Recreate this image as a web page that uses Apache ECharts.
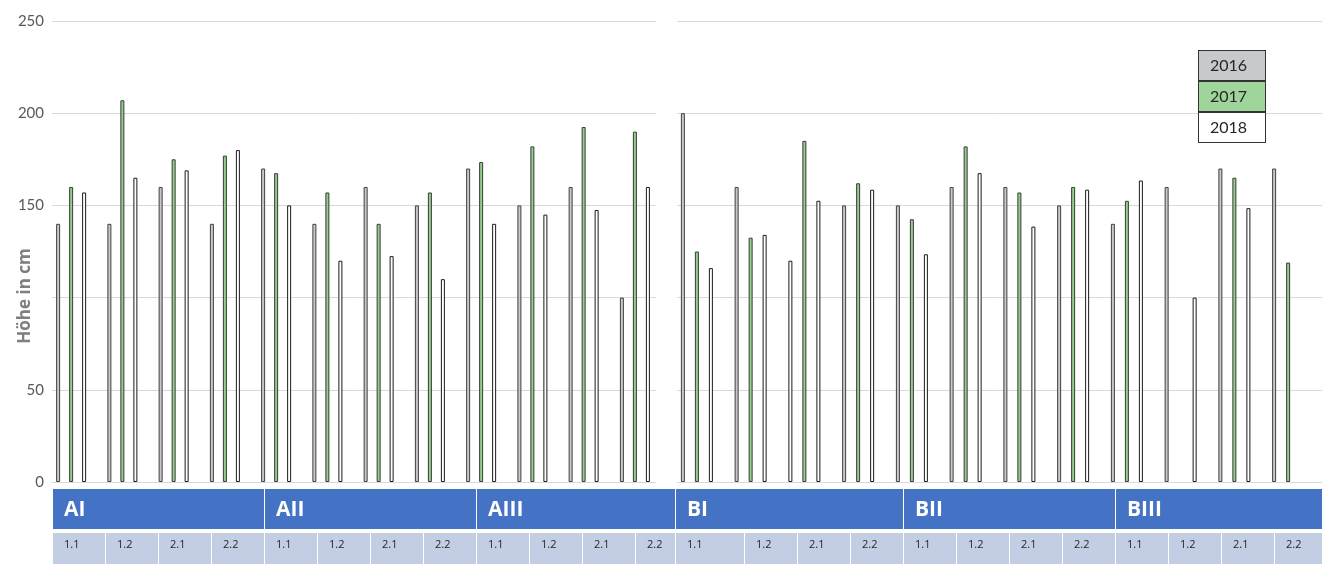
<!DOCTYPE html>
<html>
<head>
<meta charset="utf-8">
<script src="https://cdn.jsdelivr.net/npm/echarts@6/dist/echarts.min.js"></script>
<style>
  html, body { margin: 0; padding: 0; background: #fff; }
  #chart { width: 1322px; height: 564px; }
</style>
</head>
<body>
<div id="chart"></div>
<script>
// Daten
var subPlots = ['1.1', '1.2', '2.1', '2.2'];
var groupsA = ['AI', 'AII', 'AIII'];
var groupsB = ['BI', 'BII', 'BIII'];
var years = ['2016', '2017', '2018'];
var yTicks = [0, 50, 100, 150, 200, 250];
var hiddenTick = 100; // vom Achsentitel verdeckt

var a2016 = [140, 140, 160, 140, 170, 140, 160, 150, 170, 150, 160, 100];
var a2017 = [160, 207, 175, 177, 167.5, 157, 140, 157, 173.5, 182, 192.5, 190];
var a2018 = [157, 165, 169, 180, 150, 120, 122.5, 110, 140, 145, 147.5, 160];

var b2016 = [200, 160, 120, 150, 150, 160, 160, 150, 140, 160, 170, 170];
var b2017 = [125, 132.5, 185, 162, 142.5, 182, 157, 160, 152.5, null, 165, 119];
var b2018 = [116, 134, 152.5, 158.5, 123.5, 167.5, 138.5, 158.5, 163.5, 100, 148.5, null];

// Balken 2016 die weiß gefüllt sind (BI 2.1)
var whiteB2016 = [2];

var yearStyle = [
  { color: '#c8c8c8', borderColor: '#404040', borderWidth: 1 },
  { color: '#92d08a', borderColor: '#3b3b3b', borderWidth: 1 },
  { color: '#ffffff', borderColor: '#1a1a1a', borderWidth: 1 }
];
var legendFill = ['#c8c9cb', '#9fd49a', '#ffffff'];

function cats(groups) {
  var out = [];
  groups.forEach(function (g) {
    subPlots.forEach(function (s) { out.push(g + ' ' + s); });
  });
  return out;
}

var chart = echarts.init(document.getElementById('chart'));

var grids = [
  { left: 52, top: 21, width: 615, height: 461 },
  { left: 677, top: 21, width: 672, height: 461 }
];
var gapPct = ['225%', '250%'];

var xAxes = [], yAxes = [], series = [];
[[groupsA, [a2016, a2017, a2018]], [groupsB, [b2016, b2017, b2018]]].forEach(function (p, k) {
  xAxes.push({
    type: 'category', gridIndex: k, data: cats(p[0]),
    axisLine: { show: true, lineStyle: { color: '#d9d9d9', width: 1 } },
    axisTick: { show: false }, axisLabel: { show: false }
  });
  yAxes.push({
    type: 'value', gridIndex: k, min: yTicks[0], max: yTicks[yTicks.length - 1], interval: 50,
    axisLine: { show: false }, axisTick: { show: false },
    axisLabel: {
      show: k === 0, fontFamily: 'Lato', fontSize: 15, color: '#595959', margin: 8,
      formatter: function (v) { return v === hiddenTick ? '' : String(v); }
    },
    splitLine: { lineStyle: { color: '#d9d9d9', width: 1 } }
  });
  p[1].forEach(function (vals, j) {
    series.push({
      name: years[j], type: 'bar', xAxisIndex: k, yAxisIndex: k,
      barWidth: 4, barGap: gapPct[k], itemStyle: yearStyle[j],
      data: vals.map(function (v, i) {
        if (k === 1 && j === 0 && whiteB2016.indexOf(i) >= 0) {
          return { value: v, itemStyle: { color: '#ffffff', borderColor: '#1a1a1a' } };
        }
        return v;
      })
    });
  });
  // leere vierte Reihe (Platzhalter wie im Original)
  series.push({
    name: 'leer', type: 'bar', xAxisIndex: k, yAxisIndex: k,
    barWidth: 4, barGap: gapPct[k], data: p[1][0].map(function () { return null; })
  });
});

var graphics = [];

// weißer Streifen zwischen den beiden Diagrammteilen
graphics.push({
  type: 'rect', z: 100, silent: true,
  shape: { x: 656, y: 10, width: 20, height: 476 },
  style: { fill: '#ffffff' }
});

// Achsentitel
graphics.push({
  type: 'text', x: 25, y: 296, rotation: Math.PI / 2, silent: true,
  style: {
    text: 'Höhe in cm', fill: '#7f7f7f', font: 'bold 17px "Open Sans"',
    align: 'center', verticalAlign: 'middle'
  }
});

// Tabelle unter dem Diagramm
var tables = [
  { groups: groupsA, left: 53, extendFirst: 0, right: 675 },
  { groups: groupsB, left: 692, extendFirst: 16, right: 1322 }
];
var cellW = 53;
tables.forEach(function (t) {
  t.groups.forEach(function (g, gi) {
    var gx = t.left + gi * 4 * cellW - (gi === 0 ? t.extendFirst : 0);
    var gEnd = Math.min(t.left + (gi + 1) * 4 * cellW - 1, t.right);
    graphics.push({
      type: 'rect', shape: { x: gx, y: 489, width: gEnd - gx, height: 40 },
      style: { fill: '#4472c4' }, silent: true
    });
    graphics.push({
      type: 'text', x: gx + 11, y: 510,
      style: { text: g, fill: '#ffffff', font: 'bold 21px "Open Sans"', verticalAlign: 'middle' },
      silent: true
    });
    subPlots.forEach(function (s, si) {
      var cx = t.left + (gi * 4 + si) * cellW - (gi === 0 && si === 0 ? t.extendFirst : 0);
      var cEnd = Math.min(t.left + (gi * 4 + si + 1) * cellW - 1, t.right);
      if (cEnd <= cx) return;
      graphics.push({
        type: 'rect', shape: { x: cx, y: 533, width: cEnd - cx, height: 31 },
        style: { fill: '#c3cde4' }, silent: true
      });
      graphics.push({
        type: 'text', x: cx + 11, y: 545,
        style: { text: s, fill: '#262626', font: '11px "Open Sans"', verticalAlign: 'middle' },
        silent: true
      });
    });
  });
});

chart.setOption({
  animation: false,
  grid: grids,
  xAxis: xAxes,
  yAxis: yAxes,
  legend: {
    orient: 'vertical', left: 1193, top: 50, padding: 0, itemGap: 0,
    itemWidth: 0, itemHeight: 0, selectedMode: false,
    data: years.map(function (y, i) {
      return {
        name: y, icon: 'rect',
        textStyle: {
          fontFamily: 'Lato', fontSize: 16, color: '#262626', lineHeight: 18,
          width: 44, padding: [6, 11, 5, 11],
          backgroundColor: legendFill[i], borderColor: '#333333', borderWidth: 1
        }
      };
    })
  },
  series: series,
  graphic: graphics
});
</script>
</body>
</html>
